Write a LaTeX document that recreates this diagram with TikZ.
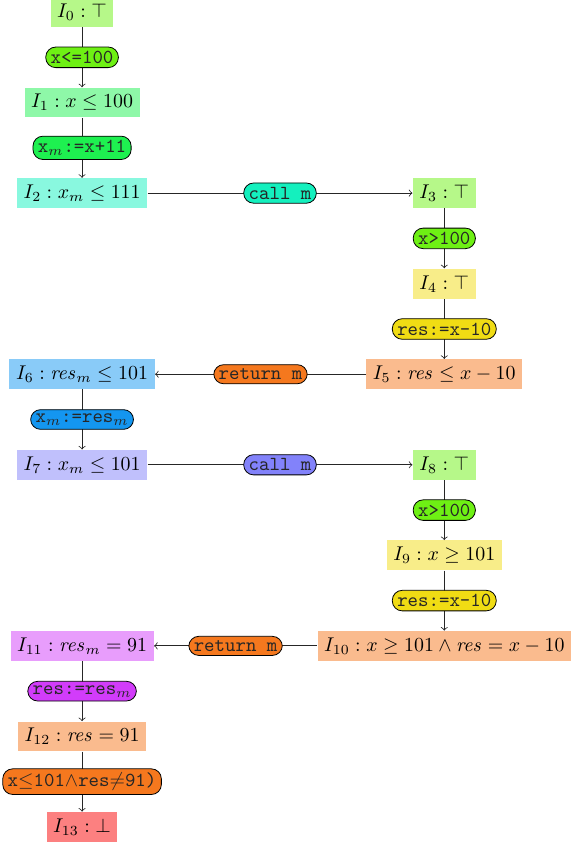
\documentclass[tikz,border=0pt]{standalone}
\usepackage{amsmath, amssymb}
\usetikzlibrary{arrows.meta}
\definecolor{cLime}{RGB}{110,240,20}
\definecolor{cGreen}{RGB}{30,240,80}
\definecolor{cTeal}{RGB}{20,240,190}
\definecolor{cYellow}{RGB}{240,220,20}
\definecolor{cOrange}{RGB}{245,120,30}
\definecolor{cBlue}{RGB}{20,150,240}
\definecolor{cLav}{RGB}{130,130,250}
\definecolor{cViolet}{RGB}{210,60,250}
\definecolor{cRed}{RGB}{250,0,0}
\tikzset{
  >=to,
  inv/.style={inner sep=3.3pt},
  guard/.style={draw=black,rounded corners=5pt,inner xsep=2.5pt,inner ysep=2pt,font=\ttfamily},
  flow/.style={->,black!85}
}

\begin{document}
\begin{tikzpicture}
    \useasboundingbox (-1.45,0.212) rectangle (8.815,-14.683);

    % Invariants, left column
    \node[inv, fill=cLime!50] (i0) at (0,0) {$I_0 : \top$};
    \node[inv, fill=cGreen!50] (i1) at (0,-1.6) {$I_1 : x \leq 100$};
    \node[inv, fill=cTeal!50] (i2) at (0,-3.2) {$I_2 : x_m \leq 111$};
    \node[inv, fill=cBlue!50] (i6) at (0,-6.4) {$I_6 : \mathit{res}_m \leq 101$};
    \node[inv, fill=cLav!50] (i7) at (0,-8) {$I_7 : x_m \leq 101$};
    \node[inv, fill=cViolet!50] (i11) at (0,-11.2) {$I_{11} : \mathit{res}_m = 91$};
    \node[inv, fill=cOrange!50] (i12) at (0,-12.8) {$I_{12} : \mathit{res} = 91$};
    \node[inv, fill=cRed!50] (i13) at (0,-14.4) {$I_{13} : \bot$};

    % Invariants, right column
    \node[inv, fill=cLime!50] (i3) at (6.4,-3.2) {$I_3 : \top$};
    \node[inv, fill=cYellow!50] (i4) at (6.4,-4.8) {$I_4 : \top$};
    \node[inv, fill=cOrange!50] (i5) at (6.4,-6.4) {$I_5 : \mathit{res} \leq x - 10$};
    \node[inv, fill=cLime!50] (i8) at (6.4,-8) {$I_8 : \top$};
    \node[inv, fill=cYellow!50] (i9) at (6.4,-9.6) {$I_9 : x \geq 101$};
    \node[inv, fill=cOrange!50] (i10) at (6.4,-11.2) {$I_{10} : x \geq 101 \wedge \mathit{res} = x - 10$};

    % Transitions
    \draw[flow] (i0) -- node[guard, fill=cLime] (g0) {x<=100} (i1);
    \draw[flow] (i1) -- node[guard, fill=cGreen] (g1) {x$_m$:=x+11} (i2);
    \draw[flow] (i2) -- node[guard, fill=cTeal] (g2) {call m} (i3);
    \draw[flow] (i3) -- node[guard, fill=cLime] (g3) {x>100} (i4);
    \draw[flow] (i4) -- node[guard, fill=cYellow] (g4) {res:=x-10} (i5);
    \draw[flow] (i5) -- node[guard, fill=cOrange] (g5) {return m} (i6);
    \draw[flow] (i6) -- node[guard, fill=cBlue] (g6) {x$_m$:=res$_m$} (i7);
    \draw[flow] (i7) -- node[guard, fill=cLav] (g7) {call m} (i8);
    \draw[flow] (i8) -- node[guard, fill=cLime] (g8) {x>100} (i9);
    \draw[flow] (i9) -- node[guard, fill=cYellow] (g9) {res:=x-10} (i10);
    \draw[flow] (i10) -- node[guard, fill=cOrange] (g10) {return m} (i11);
    \draw[flow] (i11) -- node[guard, fill=cViolet] (g11) {res:=res$_m$} (i12);
    \draw[flow] (i12) -- node[guard, fill=cOrange] (g12) {x$\leq$101$\wedge$res$\neq$91)} (i13);
\end{tikzpicture}
\end{document}
